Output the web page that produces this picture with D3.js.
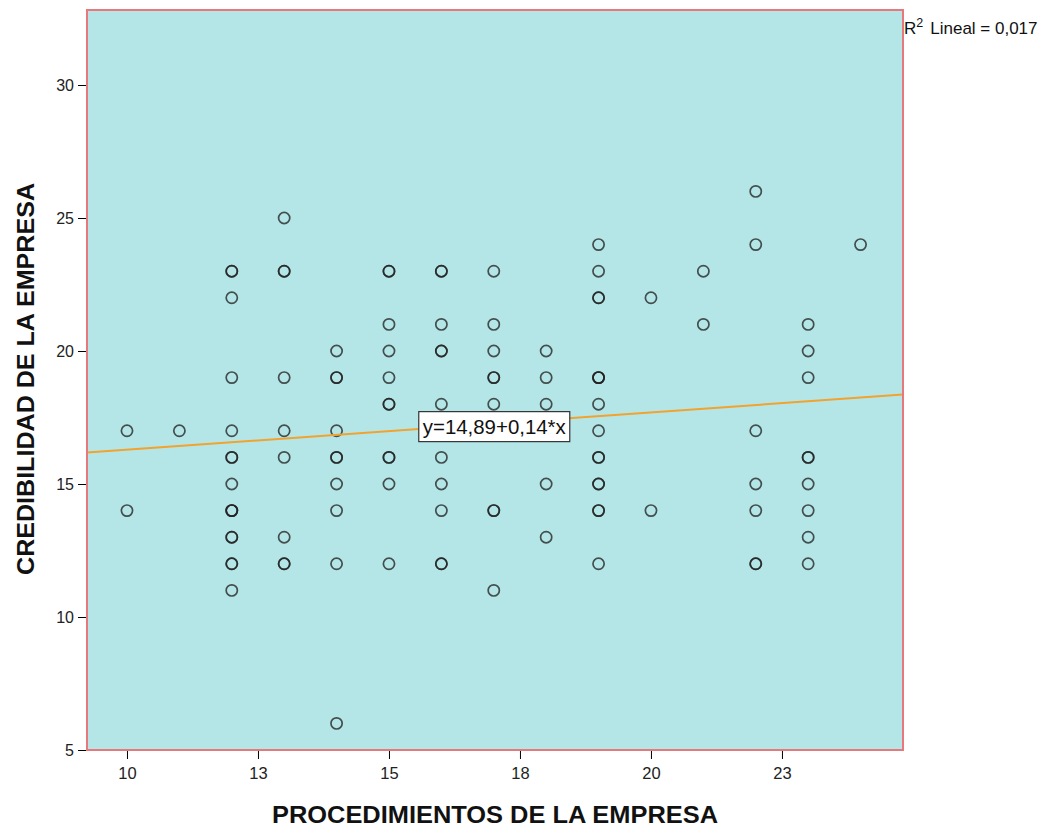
<!DOCTYPE html>
<html>
<head>
<meta charset="utf-8">
<script src="https://cdn.jsdelivr.net/npm/d3@7"></script>
<style>
  html, body { margin: 0; padding: 0; background: #ffffff; }
  svg { display: block; font-family: "Liberation Sans", Arial, sans-serif; }
</style>
</head>
<body>
<svg id="chart" width="1049" height="827"></svg>
<script>
// Procedimientos (x) and credibilidad (y) scores, one entry per respondent
const procedimientos = [
  10, 10,
  11,
  12, 12, 12, 12, 12, 12, 12, 12, 12, 12, 12, 12, 12, 12, 12, 12,
  13, 13, 13, 13, 13, 13, 13, 13, 13,
  14, 14, 14, 14, 14, 14, 14, 14, 14, 14,
  15, 15, 15, 15, 15, 15, 15, 15, 15, 15, 15,
  16, 16, 16, 16, 16, 16, 16, 16, 16, 16, 16,
  17, 17, 17, 17, 17, 17, 17, 17, 17,
  18, 18, 18, 18, 18,
  19, 19, 19, 19, 19, 19, 19, 19, 19, 19, 19, 19, 19, 19, 19, 19,
  20, 20,
  21, 21,
  22, 22, 22, 22, 22, 22, 22,
  23, 23, 23, 23, 23, 23, 23, 23, 23,
  24
];
const credibilidad = [
  17, 14,
  17,
  23, 23, 22, 19, 17, 16, 16, 15, 14, 14, 14, 13, 13, 12, 12, 11,
  25, 23, 23, 19, 17, 16, 13, 12, 12,
  20, 19, 19, 17, 16, 16, 15, 14, 12, 6,
  23, 23, 21, 20, 19, 18, 18, 16, 16, 15, 12,
  23, 23, 21, 20, 20, 18, 16, 15, 14, 12, 12,
  23, 21, 20, 19, 19, 18, 14, 14, 11,
  20, 19, 18, 15, 13,
  24, 23, 22, 22, 19, 19, 19, 18, 17, 16, 16, 15, 15, 14, 14, 12,
  22, 14,
  23, 21,
  26, 24, 17, 15, 14, 12, 12,
  21, 20, 19, 16, 16, 15, 14, 13, 12,
  24
];

// Axis ticks
const xTickValues = [10, 12.5, 15, 17.5, 20, 22.5];
const xTickLabels = ["10", "13", "15", "18", "20", "23"];
const yTickValues = [5, 10, 15, 20, 25, 30];

// Linear fit
const intercept = 14.89;
const slope = 0.14;
const rSquared = "0,017";
const fitLabel = "y=14,89+0,14*x";

const svg = d3.select("#chart");
const plot = { left: 87, right: 903, top: 10, bottom: 750 };

const x = d3.scaleLinear().domain([9.237, 24.81]).range([plot.left, plot.right]);
const y = d3.scaleLinear().domain([5, 32.82]).range([plot.bottom, plot.top]);

// Plot background
svg.append("rect")
  .attr("x", plot.left).attr("y", plot.top)
  .attr("width", plot.right - plot.left).attr("height", plot.bottom - plot.top)
  .attr("fill", "#b4e6e8");

// Axes
const xAxis = d3.axisBottom(x)
  .tickValues(xTickValues)
  .tickSize(9)
  .tickPadding(8)
  .tickFormat((d, i) => xTickLabels[i]);
const gx = svg.append("g").attr("transform", `translate(0,${plot.bottom})`).call(xAxis);
gx.select(".domain").remove();
gx.selectAll("text").attr("font-size", 16.5).attr("fill", "#222")
  .style("font-family", "'Liberation Sans Narrow', 'Liberation Sans', Arial, sans-serif");
gx.selectAll("line").attr("stroke", "#000");

const yAxis = d3.axisLeft(y)
  .tickValues(yTickValues)
  .tickSize(9)
  .tickPadding(4)
  .tickFormat(d3.format("d"));
const gy = svg.append("g").attr("transform", `translate(${plot.left},0)`).call(yAxis);
gy.select(".domain").remove();
gy.selectAll("text").attr("font-size", 16).attr("fill", "#222");
gy.selectAll("line").attr("stroke", "#000");

// Clip marks to plot area
svg.append("clipPath").attr("id", "plotClip")
  .append("rect")
  .attr("x", plot.left).attr("y", plot.top)
  .attr("width", plot.right - plot.left).attr("height", plot.bottom - plot.top);

// Points
const points = procedimientos.map((p, i) => ({ px: p, cy: credibilidad[i] }));
svg.append("g")
  .selectAll("circle")
  .data(points)
  .join("circle")
  .attr("cx", d => x(d.px))
  .attr("cy", d => y(d.cy))
  .attr("r", 5.6)
  .attr("fill", "none")
  .attr("stroke", "#222")
  .attr("stroke-opacity", 0.78)
  .attr("stroke-width", 1.7);

// Fit line across the full x range
const [x0, x1] = x.domain();
svg.append("line")
  .attr("clip-path", "url(#plotClip)")
  .attr("x1", x(x0)).attr("y1", y(intercept + slope * x0))
  .attr("x2", x(x1)).attr("y2", y(intercept + slope * x1))
  .attr("stroke", "#f2a22e")
  .attr("stroke-width", 2);

// Equation label centred on the line
const labelX = 17;
const lg = svg.append("g")
  .attr("transform", `translate(${x(labelX)},${y(intercept + slope * labelX) + 3})`);
lg.append("rect")
  .attr("x", -75).attr("y", -15)
  .attr("width", 151).attr("height", 30)
  .attr("fill", "#ffffff")
  .attr("stroke", "#333")
  .attr("stroke-width", 1.2);
lg.append("text")
  .attr("x", -71)
  .attr("dy", "0.36em")
  .attr("font-size", 19.5)
  .attr("textLength", 143)
  .attr("lengthAdjust", "spacingAndGlyphs")
  .attr("fill", "#111")
  .text(fitLabel);

// Plot border
svg.append("rect")
  .attr("x", plot.left).attr("y", plot.top)
  .attr("width", plot.right - plot.left).attr("height", plot.bottom - plot.top)
  .attr("fill", "none")
  .attr("stroke", "#e8787c")
  .attr("stroke-width", 2);

// R squared annotation
const r2 = svg.append("text")
  .attr("x", 904).attr("y", 34)
  .attr("font-size", 17)
  .attr("fill", "#111");
r2.append("tspan").text("R");
r2.append("tspan").attr("dy", -7).attr("font-size", 12.5).text("2");
r2.append("tspan").attr("dy", 7).attr("dx", 7).text("Lineal = " + rSquared);

// Axis titles
svg.append("text")
  .attr("x", 495).attr("y", 823)
  .attr("text-anchor", "middle")
  .attr("font-size", 24)
  .attr("font-weight", "bold")
  .attr("fill", "#111")
  .attr("textLength", 446)
  .attr("lengthAdjust", "spacingAndGlyphs")
  .text("PROCEDIMIENTOS DE LA EMPRESA");

svg.append("text")
  .attr("transform", "translate(34,379) rotate(-90)")
  .attr("text-anchor", "middle")
  .attr("font-size", 24)
  .attr("font-weight", "bold")
  .attr("fill", "#111")
  .attr("textLength", 392)
  .attr("lengthAdjust", "spacingAndGlyphs")
  .text("CREDIBILIDAD DE LA EMPRESA");
</script>
</body>
</html>
